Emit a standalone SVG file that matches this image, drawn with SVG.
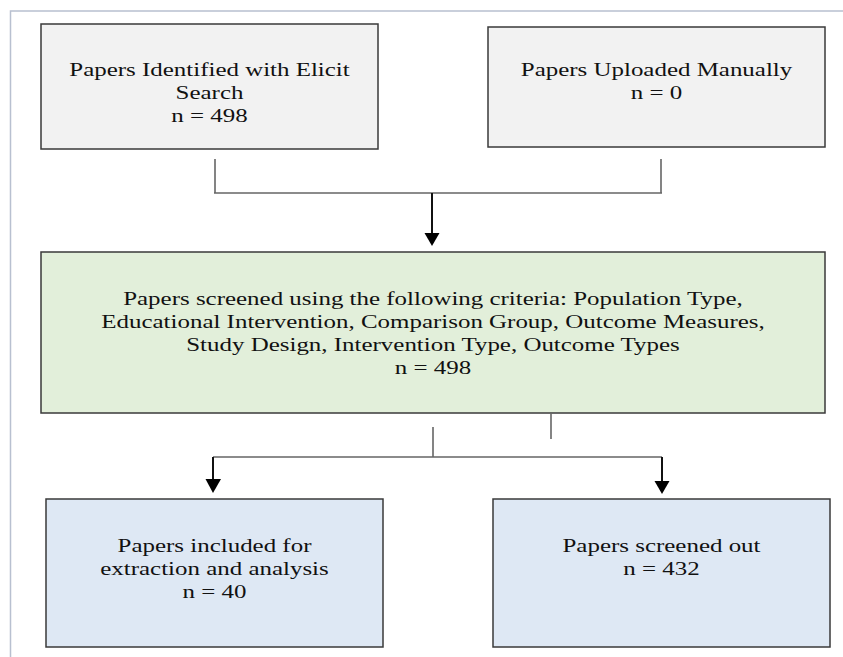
<svg xmlns="http://www.w3.org/2000/svg" width="843" height="657" viewBox="0 0 843 657">
<style>
.box{stroke:#3a3a3a;stroke-width:1.5}
.grey{fill:#f2f2f2}
.green{fill:#e2efda}
.blue{fill:#dee8f4}
.t{font-family:"Liberation Serif","Times New Roman",serif;font-size:19.5px;fill:#111;text-anchor:middle}
.ln{stroke:#666;stroke-width:1.6;fill:none}
.ar{stroke:#111;stroke-width:2;fill:none}
.ah{fill:#000}
</style>
<rect width="843" height="657" fill="#ffffff"/>
<path d="M10.5 657 V11 H843" fill="none" stroke="#b8c0d0" stroke-width="1.5"/>
<g id="node-elicit">
<rect class="box grey" x="41" y="24" width="337" height="125"/>
<text class="t" transform="translate(209.5 0) scale(1.28 1)"><tspan x="0" y="76">Papers Identified with Elicit</tspan><tspan x="0" y="99">Search</tspan><tspan x="0" y="122">n = 498</tspan></text>
</g>
<g id="node-manual">
<rect class="box grey" x="488" y="27" width="337" height="120"/>
<text class="t" transform="translate(656.5 0) scale(1.28 1)"><tspan x="0" y="76">Papers Uploaded Manually</tspan><tspan x="0" y="99">n = 0</tspan></text>
</g>
<g id="node-screened">
<rect class="box green" x="41" y="252" width="784" height="161"/>
<text class="t" transform="translate(433 0) scale(1.28 1)"><tspan x="0" y="305">Papers screened using the following criteria: Population Type,</tspan><tspan x="0" y="328">Educational Intervention, Comparison Group, Outcome Measures,</tspan><tspan x="0" y="351">Study Design, Intervention Type, Outcome Types</tspan><tspan x="0" y="374">n = 498</tspan></text>
</g>
<g id="node-included">
<rect class="box blue" x="46" y="499" width="337" height="148"/>
<text class="t" transform="translate(214.5 0) scale(1.28 1)"><tspan x="0" y="552">Papers included for</tspan><tspan x="0" y="575">extraction and analysis</tspan><tspan x="0" y="598">n = 40</tspan></text>
</g>
<g id="node-out">
<rect class="box blue" x="493" y="499" width="337" height="148"/>
<text class="t" transform="translate(661.5 0) scale(1.28 1)"><tspan x="0" y="552">Papers screened out</tspan><tspan x="0" y="575">n = 432</tspan></text>
</g>
<g id="connectors">
<path class="ln" d="M215 159 V193 M661 159 V193 M214 193 H662"/>
<path class="ar" d="M432 193 V234"/>
<path class="ah" d="M424.5 233 H439.5 L432 246 Z"/>
<path class="ln" d="M551 413 V439"/>
<path class="ln" d="M433 427 V457 M213 457 H662"/>
<path class="ar" d="M213 457 V480"/>
<path class="ah" d="M205.5 479 H221 L213 493 Z"/>
<path class="ar" d="M662 457 V482"/>
<path class="ah" d="M654.5 481 H669.5 L662 494 Z"/>
</g>
</svg>
